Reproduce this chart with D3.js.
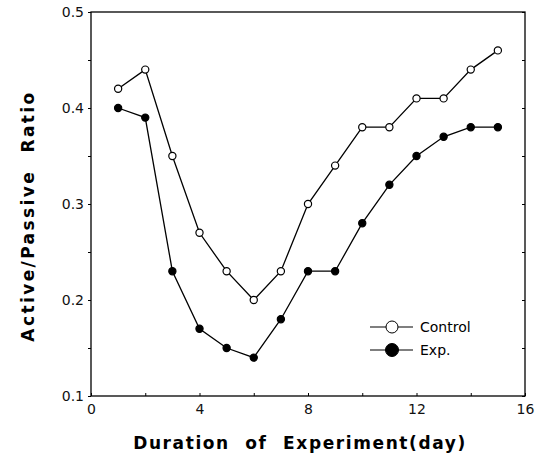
<!DOCTYPE html>
<html><head><meta charset="utf-8">
<script src="https://cdn.jsdelivr.net/npm/d3@7"></script>
<style>body{margin:0;background:#fff}svg{display:block}</style>
</head><body>
<script>
const days = [1,2,3,4,5,6,7,8,9,10,11,12,13,14,15];
const control = [0.42,0.44,0.35,0.27,0.23,0.20,0.23,0.30,0.34,0.38,0.38,0.41,0.41,0.44,0.46];
const exp = [0.40,0.39,0.23,0.17,0.15,0.14,0.18,0.23,0.23,0.28,0.32,0.35,0.37,0.38,0.38];
const xTicks = [0,4,8,12,16];
const yTicks = [0.1,0.2,0.3,0.4,0.5];
const seriesNames = ["Control","Exp."];

const W=535,H=466;
const m={l:91,r:10,t:12,b:70};
const svg=d3.select("body").append("svg").attr("width",W).attr("height",H);
const x=d3.scaleLinear().domain([0,16]).range([m.l,W-m.r]);
const y=d3.scaleLinear().domain([0.1,0.5]).range([H-m.b,m.t]);
const font="DejaVu Sans, Verdana, sans-serif";

// frame
svg.append("rect").attr("x",x(0)).attr("y",y(0.5)).attr("width",x(16)-x(0)).attr("height",y(0.1)-y(0.5))
  .attr("fill","none").attr("stroke","#000").attr("stroke-width",1.3);

// axes
const ax=svg.append("g").attr("transform",`translate(0,${y(0.1)})`)
  .call(d3.axisBottom(x).tickValues(d3.range(0,17,2)).tickSize(-3).tickPadding(8)
    .tickFormat(d=>xTicks.includes(d)?d:""));
const ay=svg.append("g").attr("transform",`translate(${x(0)},0)`)
  .call(d3.axisLeft(y).tickValues(d3.range(0.1,0.501,0.05)).tickSize(3).tickPadding(4)
    .tickFormat(d=>yTicks.some(t=>Math.abs(t-d)<1e-6)?d3.format(".1f")(d):""));
svg.append("g").attr("transform",`translate(${x(16)},0)`)
  .call(d3.axisRight(y).tickValues(d3.range(0.1,0.501,0.05)).tickSize(-3).tickFormat(""));
[ax,ay].forEach(g=>{g.select(".domain").remove();g.selectAll("text").attr("font-family",font).attr("font-size",14).attr("fill","#111");g.selectAll("line").attr("stroke","#000");});
svg.selectAll(".domain").remove();
ay.selectAll("text").attr("dy","0.32em");

// lines
const line=d3.line().x((d,i)=>x(days[i])).y(d=>y(d));
[[control,"#fff"],[exp,"#000"]].forEach(([s,f])=>{
  svg.append("path").datum(s).attr("d",line).attr("fill","none").attr("stroke","#000").attr("stroke-width",1.3);
  svg.selectAll(null).data(s).enter().append("circle")
    .attr("cx",(d,i)=>x(days[i])).attr("cy",d=>y(d)).attr("r",3.6)
    .attr("fill",f).attr("stroke","#000").attr("stroke-width",1.2);
});

// legend
const lg=svg.append("g");
seriesNames.forEach((n,i)=>{
  const ly=327+i*23;
  lg.append("line").attr("x1",370).attr("x2",413).attr("y1",ly).attr("y2",ly).attr("stroke","#000").attr("stroke-width",1.2);
  lg.append("circle").attr("cx",392).attr("cy",ly).attr("r",i?6.5:6).attr("fill",i?"#000":"#fff").attr("stroke","#000").attr("stroke-width",1);
  lg.append("text").attr("x",420).attr("y",ly).attr("dy","0.35em").attr("font-family",font).attr("font-size",14).text(n);
});

// axis titles
svg.append("text").attr("x",300).attr("y",449).attr("text-anchor","middle")
  .attr("font-family",font).attr("font-size",17).attr("font-weight","bold").attr("letter-spacing",1.6)
  .attr("word-spacing",8).text("Duration of Experiment(day)");
svg.append("text").attr("transform",`translate(34,216) rotate(-90)`).attr("text-anchor","middle")
  .attr("font-family",font).attr("font-size",17).attr("font-weight","bold").attr("letter-spacing",2.4)
  .attr("word-spacing",9).text("Active/Passive Ratio");
</script>
</body></html>
